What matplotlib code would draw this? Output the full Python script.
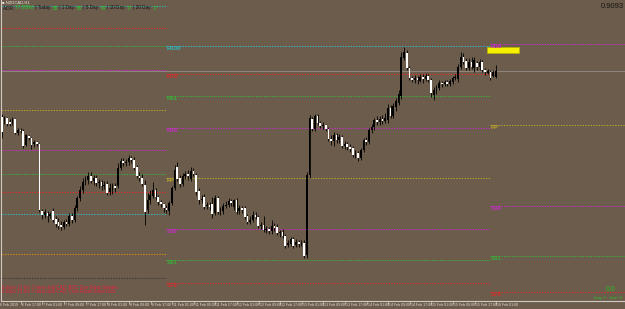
import matplotlib
matplotlib.use("Agg")
import matplotlib.pyplot as plt
import matplotlib.transforms as mtransforms
from matplotlib.patches import Rectangle
import numpy as np

# ---------------- data ----------------
symbol = "NZDCAD,H1"
price_text = "0.9093"

# OHLC of H1 bars, in points (1 point = 0.00001)
opens = [90500, 90564, 90532, 90556, 90524, 90508, 90548, 90436, 90460, 90452,
         90340, 90412, 90396, 90348, 90364, 90348, 89812, 89780, 89796, 89772,
         89812, 89748, 89724, 89700, 89684, 89724, 89708, 89772, 89740, 89836,
         89916, 89980, 90044, 90060, 90092, 90052, 90076, 90036, 90044, 90012,
         90028, 89964, 89980, 90012, 90012, 90156, 90212, 90196, 90204, 90236,
         90220, 90164, 90092, 90076, 90020, 89820, 89900, 89932, 89980, 89924,
         89884, 89868, 89836, 89812, 89876, 89996, 90164, 90076, 90028, 90092,
         90108, 90068, 90132, 90100, 89972, 89900, 89924, 89852, 89860, 89868,
         89796, 89916, 89804, 89812, 89852, 89860, 89892, 89844, 89900, 89812,
         89836, 89836, 89772, 89724, 89740, 89780, 89764, 89692, 89700, 89660,
         89668, 89652, 89692, 89684, 89636, 89644, 89612, 89540, 89548, 89588,
         89540, 89564, 89548, 89556, 89460, 90100, 90548, 90468, 90572, 90516,
         90492, 90500, 90468, 90388, 90372, 90420, 90380, 90404, 90332, 90348,
         90324, 90316, 90260, 90276, 90236, 90300, 90380, 90364, 90460, 90484,
         90540, 90524, 90548, 90532, 90540, 90636, 90572, 90644, 90676, 90732,
         91036, 91076, 90956, 90876, 90860, 90876, 90852, 90884, 90868, 90892,
         90860, 90740, 90772, 90796, 90836, 90828, 90844, 90828, 90844, 90876,
         90868, 90964, 91044, 91012, 90956, 91004, 90956, 90996, 90964, 91004,
         90940, 90916, 90924, 90892, 90884]
highs = [90580, 90588, 90572, 90564, 90548, 90564, 90556, 90476, 90476, 90468,
         90428, 90420, 90404, 90380, 90372, 90356, 89828, 89828, 89812, 89804,
         89836, 89772, 89756, 89732, 89740, 89748, 89796, 89796, 89860, 89932,
         90012, 90076, 90092, 90124, 90124, 90100, 90100, 90068, 90060, 90052,
         90052, 90036, 90036, 90036, 90196, 90236, 90236, 90228, 90260, 90252,
         90244, 90180, 90124, 90108, 90060, 89956, 89980, 90044, 89996, 89940,
         89900, 89876, 89860, 89892, 90012, 90180, 90204, 90100, 90116, 90132,
         90140, 90164, 90156, 90116, 89996, 89940, 89948, 89884, 89884, 89924,
         89940, 89932, 89844, 89876, 89892, 89916, 89908, 89908, 89916, 89860,
         89852, 89852, 89788, 89772, 89812, 89804, 89780, 89724, 89772, 89692,
         89684, 89740, 89716, 89708, 89660, 89668, 89628, 89580, 89604, 89604,
         89588, 89580, 89580, 89580, 90124, 90580, 90564, 90588, 90588, 90532,
         90524, 90508, 90484, 90420, 90444, 90436, 90428, 90420, 90372, 90364,
         90348, 90332, 90300, 90292, 90316, 90396, 90404, 90476, 90508, 90556,
         90572, 90572, 90580, 90596, 90668, 90660, 90676, 90716, 90780, 91084,
         91124, 91100, 90972, 90892, 90900, 90892, 90908, 90908, 90916, 90908,
         90876, 90804, 90820, 90860, 90852, 90860, 90860, 90868, 90892, 90908,
         90988, 91084, 91076, 91036, 91036, 91044, 91044, 91012, 91028, 91020,
         90956, 90948, 90940, 90940, 90980]
lows = [90476, 90396, 90508, 90492, 90492, 90500, 90428, 90420, 90436, 90316,
        90332, 90380, 90308, 90324, 90332, 89804, 89748, 89756, 89724, 89756,
        89724, 89684, 89668, 89660, 89668, 89692, 89692, 89716, 89724, 89812,
        89892, 89956, 90020, 90028, 90036, 90020, 90012, 89996, 89980, 89988,
        89940, 89940, 89948, 89964, 89996, 90140, 90172, 90172, 90180, 90196,
        90140, 90076, 90052, 90012, 89700, 89796, 89868, 89916, 89900, 89860,
        89844, 89804, 89796, 89780, 89860, 89980, 90052, 90004, 90012, 90068,
        90060, 90052, 90092, 89940, 89868, 89876, 89828, 89828, 89820, 89756,
        89780, 89788, 89780, 89788, 89836, 89844, 89852, 89820, 89788, 89788,
        89796, 89748, 89708, 89708, 89724, 89748, 89676, 89668, 89644, 89636,
        89628, 89628, 89652, 89620, 89604, 89596, 89516, 89524, 89532, 89516,
        89524, 89524, 89532, 89436, 89436, 90076, 90452, 90452, 90500, 90476,
        90468, 90452, 90372, 90340, 90332, 90356, 90356, 90316, 90308, 90300,
        90284, 90244, 90236, 90212, 90220, 90284, 90340, 90348, 90436, 90460,
        90500, 90500, 90508, 90516, 90516, 90556, 90556, 90612, 90660, 90708,
        91020, 90940, 90860, 90844, 90836, 90828, 90844, 90836, 90852, 90844,
        90724, 90700, 90748, 90780, 90804, 90812, 90812, 90812, 90828, 90860,
        90844, 90948, 90988, 90940, 90940, 90948, 90924, 90940, 90940, 90924,
        90900, 90908, 90860, 90884, 90876]
closes = [90564, 90444, 90564, 90508, 90508, 90548, 90436, 90460, 90452, 90332,
          90420, 90396, 90340, 90364, 90348, 89820, 89780, 89804, 89772, 89788,
          89740, 89708, 89692, 89684, 89724, 89708, 89772, 89740, 89836, 89916,
          89980, 90044, 90060, 90092, 90052, 90076, 90036, 90044, 90012, 90020,
          89956, 89996, 90020, 89996, 90156, 90212, 90196, 90204, 90236, 90220,
          90156, 90092, 90076, 90028, 89804, 89900, 89940, 89980, 89924, 89884,
          89868, 89836, 89820, 89876, 89996, 90140, 90068, 90028, 90092, 90108,
          90092, 90132, 90108, 89964, 89900, 89908, 89844, 89860, 89844, 89788,
          89916, 89804, 89812, 89852, 89860, 89892, 89876, 89900, 89804, 89836,
          89820, 89764, 89724, 89740, 89780, 89764, 89692, 89700, 89660, 89668,
          89652, 89692, 89676, 89636, 89644, 89612, 89532, 89556, 89588, 89532,
          89564, 89548, 89556, 89452, 90100, 90556, 90468, 90572, 90516, 90492,
          90500, 90468, 90388, 90372, 90420, 90380, 90404, 90332, 90348, 90324,
          90308, 90260, 90276, 90236, 90300, 90380, 90364, 90460, 90484, 90540,
          90524, 90548, 90532, 90556, 90636, 90572, 90652, 90692, 90748, 91044,
          91084, 90956, 90876, 90860, 90876, 90860, 90884, 90868, 90892, 90860,
          90756, 90780, 90796, 90836, 90828, 90844, 90828, 90852, 90876, 90884,
          90964, 91044, 91004, 90956, 91004, 90964, 91020, 90964, 91004, 90940,
          90924, 90932, 90876, 90924, 90932]

time_labels = ["6 Feb 2019", "6 Feb 17:00", "7 Feb 01:00", "7 Feb 09:00", "7 Feb 17:00",
               "8 Feb 01:00", "8 Feb 09:00", "8 Feb 17:00", "11 Feb 01:00", "11 Feb 09:00",
               "11 Feb 17:00", "12 Feb 01:00", "12 Feb 09:00", "12 Feb 17:00", "13 Feb 01:00",
               "13 Feb 09:00", "13 Feb 17:00", "14 Feb 01:00", "14 Feb 09:00", "14 Feb 17:00",
               "15 Feb 01:00", "15 Feb 09:00", "15 Feb 17:00", "18 Feb 01:00"]
time_label_bars = [-1, 7, 15, 23, 31, 39, 47, 55, 63, 71, 79, 87, 95, 103, 111,
                   119, 127, 135, 143, 151, 159, 167, 175, 183]

# weekly fibonacci pivot levels (points)
week_start_bars = [-1, 62, 182]
week_end_bars = [62, 182, 232]
w1_names = ["R100", "R78", "R61", "R38", "PP", "S38", "S61", "S78", "S100", "S138", "S161"]
w1_levels = [91452, 91276, 91132, 90940, 90620, 90300, 90108, 89964, 89788, 89468, 89276]
w2_names = ["R100", "R78", "R61", "R38", "PP", "S38", "S61", "S78"]
w2_levels = [91132, 90908, 90732, 90476, 90076, 89668, 89420, 89236]
w3_names = ["R38", "PP", "S38", "S61", "S78"]
w3_levels = [91148, 90500, 89852, 89452, 89164]

yellow_box_bars = (180.7, 192.6)
yellow_box_prices = (91076, 91124)

adr_parts = [("ADR: ", "k"), ("77 (85%)", "g"), (" | Today: ", "k"), ("65", "g"),
             (" | 1 Day: ", "k"), ("86", "g"), (" | 5 Day: ", "k"), ("84", "g"),
             (" | 10 Day: ", "k"), ("77", "g"), (" | 20 Day: ", "k"), ("77", "g")]
news_lines = ["5 days 17 hrs 7 mins until CAD: BOC Gov Poloz Speaks",
              "6 days 13 hrs 7 mins until CAD: Core Retail Sales m/m"]
pl_value = "0.0"
pl_detail = "long: 0   short: 0"

# ---------------- style ----------------
BG = "#6c5c4c"
level_colors = {"R100": "#2fb6bf", "S100": "#2fb6bf", "R78": "#d8302c", "S78": "#d8302c",
                "R61": "#38b038", "S61": "#38b038", "R38": "#c52ec5", "S38": "#c52ec5",
                "PP": "#b8a62a", "S138": "#d88c18", "S161": "#3c3a38"}
SANS = ["Liberation Sans", "DejaVu Sans"]

W, H = 625, 309
fig = plt.figure(figsize=(W / 100, H / 100), dpi=100)
fig.patch.set_facecolor(BG)
ax = fig.add_axes([1 / W, 8 / H, 624 / W, 301 / H])
ax.set_facecolor(BG)

ax.set_xlim(0.741, 231.85)
ax.set_ylim(0.89092, 0.91500)

# bid line
ax.axhline(closes[-1] / 1e5, color="#948e86", lw=0.6, zorder=1)

# pivot lines
weeks = [(w1_names, w1_levels, False), (w2_names, w2_levels, True), (w3_names, w3_levels, True)]
for (names, levels, labelled), s, e in zip(weeks, week_start_bars, week_end_bars):
    for n, lv in zip(names, levels):
        p = lv / 1e5
        ax.hlines(p, s, e, colors=level_colors[n], linestyles=(0, (1.3, 1.3)), lw=0.75, zorder=2)
        if labelled:
            ax.text(s + 0.1, p - 0.00002, n, color=level_colors[n], fontsize=4.3,
                    fontweight="bold", family=SANS, va="top", ha="left", zorder=6)

# yellow box
ax.add_patch(Rectangle((yellow_box_bars[0], yellow_box_prices[0] / 1e5),
                       yellow_box_bars[1] - yellow_box_bars[0],
                       (yellow_box_prices[1] - yellow_box_prices[0]) / 1e5,
                       facecolor="#f5f000", edgecolor="#b8b400", lw=0.5, zorder=5))

# candles
idx = np.arange(len(opens))
o = np.array(opens) / 1e5
h = np.array(highs) / 1e5
l = np.array(lows) / 1e5
c = np.array(closes) / 1e5
up = c >= o
ax.vlines(idx, l, h, colors="#000000", lw=0.6, zorder=3)
body_bottom = np.minimum(o, c)
body_h = np.maximum(np.abs(c - o), 0.00002)
ax.bar(idx, body_h, bottom=body_bottom, width=0.65,
       color=np.where(up, "#000000", "#ffffff"), linewidth=0, zorder=4)

# spines / ticks
for sp in ["top", "right"]:
    ax.spines[sp].set_visible(False)
for sp in ["left", "bottom"]:
    ax.spines[sp].set_color("#cfcac4")
    ax.spines[sp].set_linewidth(0.8)
ax.set_xticks([])
ax.set_yticks([])

# time labels
blend = mtransforms.blended_transform_factory(ax.transData, ax.transAxes)
txt_off = mtransforms.ScaledTranslation(4 / 100, -2.0 / 100, fig.dpi_scale_trans)
tick_off = mtransforms.ScaledTranslation(3 / 100, 0, fig.dpi_scale_trans)
for b, lab in zip(time_label_bars, time_labels):
    ax.text(b, 0, lab, transform=blend + txt_off, color="#e6e2dc", fontsize=2.55,
            family=SANS, ha="left", va="top", clip_on=False)
    ax.plot([b, b], [0, -0.009], transform=blend + tick_off, color="#cfcac4",
            lw=0.5, clip_on=False)

# header texts
fig.text(2 / W, 1 - 3 / H, "\u25a0 " + symbol, color="#e8e4de", fontsize=3.0,
         family=SANS, ha="left", va="center")
prev = None
for s, col in adr_parts:
    colr = "#101010" if col == "k" else "#22d022"
    if prev is None:
        prev = fig.text(3 / W, 1 - 8 / H, s, color=colr, fontsize=3.3, family=SANS,
                        ha="left", va="center")
    else:
        prev = ax.annotate(s, xy=(1, 0), xycoords=prev, va="bottom", ha="left",
                           color=colr, fontsize=3.3, family=SANS)

fig.text(624 / W, 1 - 7 / H, price_text, color="#141414", fontsize=5.4, family=SANS,
         ha="right", va="center")

for i, line in enumerate(news_lines):
    fig.text(2 / W, 1 - (287.5 + 4.5 * i) / H, line, color="#e4203c", fontsize=3.3,
             family=SANS, ha="left", va="center")

fig.text(615 / W, 1 - 289.5 / H, pl_value, color="#26c226", fontsize=5.0, family=SANS,
         ha="right", va="center")
fig.text(622 / W, 1 - 298 / H, pl_detail, color="#26c226", fontsize=2.8, family=SANS,
         ha="right", va="center")

fig.savefig("out.png", dpi=100, facecolor=BG)
